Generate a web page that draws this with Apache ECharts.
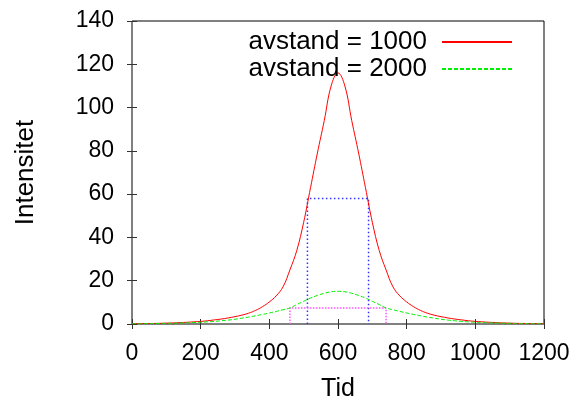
<!DOCTYPE html>
<html>
<head>
<meta charset="utf-8">
<script src="https://cdn.jsdelivr.net/npm/echarts@6/dist/echarts.min.js"></script>
<style>
html,body{margin:0;padding:0;background:#fff;}
#chart{width:579px;height:400px;}
</style>
</head>
<body>
<div id="chart"></div>
<script>
// Data
var tid = [0, 20, 40, 60, 80, 100, 120, 140, 160, 180, 200, 220, 240, 260, 280, 300, 320, 340, 360, 380,
           400, 420, 440, 460, 480, 500, 520, 540, 560, 580, 600, 620, 640, 660, 680, 700, 720, 740, 760, 780,
           800, 820, 840, 860, 880, 900, 920, 940, 960, 980, 1000, 1020, 1040, 1060, 1080, 1100, 1120, 1140, 1160, 1180, 1200];
var avstand1000 = [0.1, 0.15, 0.2, 0.25, 0.3, 0.4, 0.5, 0.65, 0.8, 1.0, 1.2, 1.5, 1.9, 2.3, 2.8, 3.4, 4.1, 5.0, 6.3, 8.0,
                   10.2, 13, 17.2, 25, 34, 47, 63, 79, 94, 110, 116, 110, 94, 79, 63, 47, 34, 25, 17.2, 13,
                   10.2, 8.0, 6.3, 5.0, 4.1, 3.4, 2.8, 2.3, 1.9, 1.5, 1.2, 1.0, 0.8, 0.65, 0.5, 0.4, 0.3, 0.25, 0.2, 0.15, 0.1];
var avstand2000 = [0.08, 0.1, 0.15, 0.2, 0.25, 0.3, 0.35, 0.45, 0.55, 0.7, 0.8, 1.0, 1.2, 1.5, 1.8, 2.2, 2.7, 3.2, 3.8, 4.4,
                   5.1, 5.8, 6.6, 7.4, 9.0, 10.5, 12.0, 13.2, 14.2, 14.9, 15.1, 14.9, 14.2, 13.2, 12.0, 10.5, 9.0, 7.4, 6.6, 5.8,
                   5.1, 4.4, 3.8, 3.2, 2.7, 2.2, 1.8, 1.5, 1.2, 1.0, 0.8, 0.7, 0.55, 0.45, 0.35, 0.3, 0.25, 0.2, 0.15, 0.1, 0.08];
var halvX1000 = [511, 511, 689, 689];
var halvY1000 = [0, 58, 58, 0];
var halvX2000 = [460, 460, 740, 740];
var halvY2000 = [0, 7.4, 7.4, 0];
var xTicks = [0, 200, 400, 600, 800, 1000, 1200];
var yTicks = [0, 20, 40, 60, 80, 100, 120, 140];
var names = ['avstand = 1000', 'avstand = 2000'];

function pairs(xs, ys) { return xs.map(function (x, i) { return [x, ys[i]]; }); }

var FONT = '"Liberation Sans", Arial, Helvetica, sans-serif';
var chart = echarts.init(document.getElementById('chart'), null, {renderer: 'canvas'});
var tickStyle = {show: true, inside: true, length: 5, lineStyle: {color: '#333', width: 1}};
var plain = function (v) { return String(v); };
var option = {
  animation: false,
  backgroundColor: '#fff',
  grid: {left: 132, right: 35, top: 21, bottom: 76, show: true, borderColor: '#000', borderWidth: 1,
         backgroundColor: 'transparent', containLabel: false, outerBoundsMode: 'none'},
  legend: {
    data: names.map(function (n) { return {name: n, itemStyle: {opacity: 0}}; }),
    orient: 'vertical',
    right: 61,
    top: 24,
    align: 'right',
    itemWidth: 70,
    itemHeight: 14,
    itemGap: 1,
    textStyle: {fontFamily: FONT, fontSize: 26, color: '#000', padding: [0, 10, 0, 0]},
    selectedMode: false
  },
  xAxis: [{
    type: 'value', min: xTicks[0], max: xTicks[xTicks.length - 1], interval: 200,
    name: 'Tid', nameLocation: 'middle', nameGap: 53,
    nameTextStyle: {fontFamily: FONT, fontSize: 25, color: '#000'},
    axisLine: {show: false},
    axisTick: tickStyle,
    splitLine: {show: false},
    axisLabel: {fontFamily: FONT, fontSize: 23, color: '#000', margin: 18, formatter: plain}
  }, {
    type: 'value', position: 'top', min: 0, max: 1200, interval: 200,
    axisLine: {show: false}, axisTick: tickStyle, axisLabel: {show: false}, splitLine: {show: false}
  }],
  yAxis: [{
    type: 'value', min: yTicks[0], max: yTicks[yTicks.length - 1], interval: 20,
    name: 'Intensitet', nameLocation: 'middle', nameGap: 93, nameRotate: 90,
    nameTextStyle: {fontFamily: FONT, fontSize: 26, color: '#000'},
    axisLine: {show: false},
    axisTick: tickStyle,
    splitLine: {show: false},
    axisLabel: {fontFamily: FONT, fontSize: 23, color: '#000', margin: 18, padding: [5, 0, 0, 0], formatter: plain}
  }, {
    type: 'value', position: 'right', min: 0, max: 140, interval: 20,
    axisLine: {show: false}, axisTick: tickStyle, axisLabel: {show: false}, splitLine: {show: false}
  }],
  series: [{
    name: names[0], type: 'line', data: pairs(tid, avstand1000), smooth: 0.4,
    symbol: 'none', showSymbol: false,
    lineStyle: {color: '#ff0000', width: 1}, itemStyle: {color: '#ff0000'}, z: 3
  }, {
    name: names[1], type: 'line', data: pairs(tid, avstand2000), smooth: 0.4,
    symbol: 'none', showSymbol: false,
    lineStyle: {color: '#00ee00', width: 1, type: [4, 2]}, itemStyle: {color: '#00ee00'}, z: 3
  }, {
    name: 'halv1000', type: 'line', data: pairs(halvX1000, halvY1000),
    symbol: 'none', showSymbol: false,
    lineStyle: {color: '#3333ff', width: 1.5, type: [1.5, 2.5]}, z: 2
  }, {
    name: 'halv2000', type: 'line', data: pairs(halvX2000, halvY2000),
    symbol: 'none', showSymbol: false,
    lineStyle: {color: '#ff55ff', width: 1.5, type: [1.5, 1.5]}, z: 2
  }]
};
chart.setOption(option);
</script>
</body>
</html>
